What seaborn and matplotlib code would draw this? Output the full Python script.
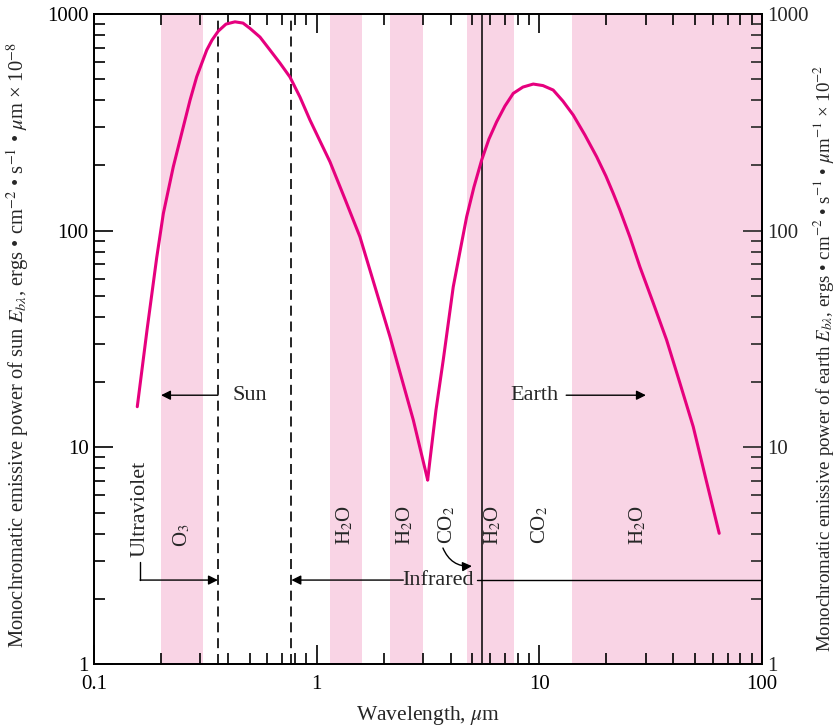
import matplotlib
matplotlib.use("Agg")
import matplotlib.pyplot as plt
from matplotlib.ticker import FuncFormatter, NullFormatter
import seaborn as sns
import pandas as pd

# Curve (wavelength in um, emissive power)
sun_wl = [0.1564, 0.1730, 0.1912, 0.2048, 0.2270, 0.2518, 0.2700, 0.2892,
          0.3208, 0.3388, 0.3616, 0.3915, 0.4296, 0.4668, 0.5017, 0.5564,
          0.6171, 0.6841, 0.7587, 0.8414, 0.933, 1.035, 1.147, 1.340,
          1.564, 1.827, 2.134, 2.716, 3.151]
sun_power = [15.4, 34.8, 75, 120, 197.2, 301.6, 400.6, 513.2,
             681.5, 757.8, 834, 898, 920, 907.8, 858, 782.3,
             681.5, 593.4, 511.5, 413.5, 323.9, 259.1, 208, 139.9,
             93.7, 55.1, 32.4, 13.37, 7.07]
earth_wl = [3.151, 3.227, 3.434, 3.702, 4.105, 4.400, 4.716, 5.085, 5.507,
            5.937, 6.432, 7.005, 7.635, 8.437, 9.389, 10.38, 11.54, 12.76,
            14.20, 16.03, 18.09, 19.91, 21.47, 23.01, 25.52, 28.29, 32.37,
            37.29, 42.79, 49.11, 55.98, 64.24]
earth_power = [7.07, 8.74, 14.86, 25.3, 55, 80, 115.9, 158.9, 211.7,
               264.6, 318.1, 375.8, 430.1, 459.9, 474.9, 467.3, 445.6, 396.3,
               341.6, 276.1, 219.3, 178.6, 148.7, 124.5, 93.4, 68.1, 46.8,
               31.3, 19.8, 12.45, 7.14, 4.01]

# absorption bands (um)
band_start = [0.2, 1.15, 2.13, 4.73, 14.0]
band_end = [0.31, 1.6, 3.0, 7.69, 100.0]
band_labels = ["O$_3$", "H$_2$O", "H$_2$O", "CO$_2$", "H$_2$O", "CO$_2$", "H$_2$O"]
band_label_x = [0.248, 1.34, 2.49, 3.85, 6.19, 10.06, 27.7]
band_label_y = [3.94, 4.38, 4.38, 4.38, 4.38, 4.38, 4.38]

uv_limit = 0.36
ir_limit = 0.77
earth_limit = 5.5

sns.set_style("ticks")
plt.rcParams["font.family"] = ["Liberation Serif", "DejaVu Serif"]
plt.rcParams["mathtext.fontset"] = "stix"

curve_color = "#e6007e"
band_color = "#f9d4e5"
note_size = 16

fig = plt.figure(figsize=(8.38, 7.28), dpi=100)
ax = fig.add_axes([0.1122, 0.0879, 0.7971, 0.8929])
ax.set_xscale("log")
ax.set_yscale("log")

for a, b in zip(band_start, band_end):
    ax.axvspan(a, b, color=band_color, lw=0, zorder=0)

ax.axvline(uv_limit, color="black", lw=1.2, ls=(0, (6, 3.5)), zorder=2)
ax.axvline(ir_limit, color="black", lw=1.2, ls=(0, (6, 3.5)), zorder=2)
ax.axvline(earth_limit, color="black", lw=1.1, zorder=2)

sun = pd.DataFrame({"wl": sun_wl, "power": sun_power})
earth = pd.DataFrame({"wl": earth_wl, "power": earth_power})
sns.lineplot(data=sun, x="wl", y="power", ax=ax, color=curve_color, lw=2.2,
             sort=False, estimator=None, zorder=3)
sns.lineplot(data=earth, x="wl", y="power", ax=ax, color=curve_color, lw=2.2,
             sort=False, estimator=None, zorder=3)

ax.set_xlim(0.1, 100)
ax.set_ylim(1, 1000)

for lab, x, y in zip(band_labels, band_label_x, band_label_y):
    ax.text(x, y, lab, rotation=90, ha="center", va="center", fontsize=15, zorder=4)

arrow = dict(arrowstyle="-|>", color="black", lw=1.0, mutation_scale=14,
             shrinkA=0, shrinkB=0)

# Sun
ax.annotate("", xy=(0.2, 17.4), xytext=(uv_limit, 17.4), arrowprops=arrow)
ax.text(0.417, 17.4, "Sun", ha="left", va="center", fontsize=note_size)

# Earth
ax.text(12.2, 17.4, "Earth", ha="right", va="center", fontsize=note_size)
ax.annotate("", xy=(30.1, 17.4), xytext=(13.2, 17.4), arrowprops=arrow)

# Ultraviolet
ax.text(0.161, 5.19, "Ultraviolet", rotation=90, ha="center", va="center",
        fontsize=note_size)
ax.plot([0.161, 0.161], [2.96, 2.44], color="black", lw=1.0)
ax.annotate("", xy=(uv_limit, 2.44), xytext=(0.161, 2.44), arrowprops=arrow)

# Infrared
ax.text(3.51, 2.44, "Infrared", ha="center", va="center", fontsize=note_size)
ax.annotate("", xy=(ir_limit, 2.44), xytext=(2.45, 2.44), arrowprops=arrow)
ax.plot([5.27, 100], [2.44, 2.44], color="black", lw=1.0)

# CO2 arrow
ax.annotate("", xy=(4.98, 2.83), xytext=(3.69, 3.43),
            arrowprops=dict(arrowstyle="-|>", color="black", lw=1.0,
                            mutation_scale=14, shrinkA=0, shrinkB=0,
                            connectionstyle="arc3,rad=0.35"))

fmt = FuncFormatter(lambda v, p: f"{v:g}")
ax.xaxis.set_major_formatter(fmt)
ax.yaxis.set_major_formatter(fmt)
ax.xaxis.set_minor_formatter(NullFormatter())
ax.yaxis.set_minor_formatter(NullFormatter())
ax.tick_params(which="both", direction="in", top=True, right=False, width=1.2,
               labelsize=15, colors="black")
ax.tick_params(which="major", length=13.5)
ax.tick_params(which="minor", length=8)
ax.tick_params(axis="x", which="major", pad=8)
ax.tick_params(axis="y", which="major", pad=4)

ax2 = ax.twinx()
ax2.set_yscale("log")
ax2.set_ylim(1, 1000)
ax2.yaxis.set_major_formatter(fmt)
ax2.yaxis.set_minor_formatter(NullFormatter())
ax2.tick_params(which="both", direction="in", width=1.2, labelsize=15, pad=4)
ax2.tick_params(which="major", length=13.5)
ax2.tick_params(which="minor", length=8)

for a in (ax, ax2):
    for s in a.spines.values():
        s.set_linewidth(1.3)
        s.set_color("black")

ax.set_xlabel("Wavelength, $\\mu$m", fontsize=15.5)
ax.xaxis.set_label_coords(0.5, -0.062)
ax.set_ylabel("Monochromatic emissive power of sun $E_{b\\lambda}$, ergs • cm$^{-2}$ • s$^{-1}$ • $\\mu$m × 10$^{-8}$",
              fontsize=14.8)
ax.yaxis.set_label_coords(-0.094, 0.49)
ax2.set_ylabel("Monochromatic emissive power of earth $E_{b\\lambda}$, ergs • cm$^{-2}$ • s$^{-1}$ • $\\mu$m$^{-1}$ × 10$^{-2}$",
               fontsize=13.6)
ax2.yaxis.set_label_coords(1.074, 0.47)

fig.savefig("out.png", dpi=100)
